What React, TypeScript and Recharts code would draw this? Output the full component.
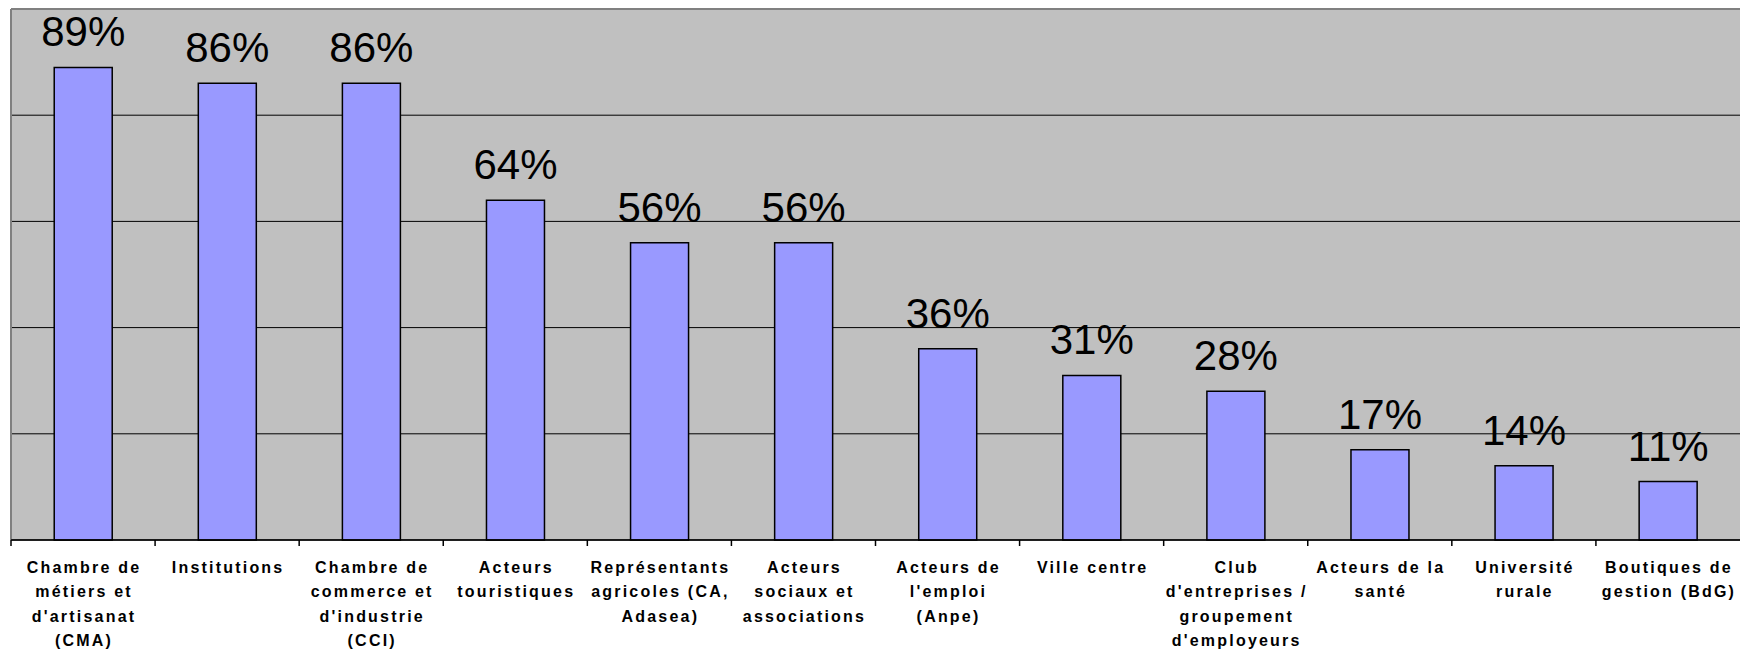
import { BarChart, Bar, XAxis, YAxis, CartesianGrid, LabelList, ReferenceLine } from 'recharts'

const categories = [
  'Chambre de métiers et d\'artisanat (CMA)',
  'Institutions',
  'Chambre de commerce et d\'industrie (CCI)',
  'Acteurs touristiques',
  'Représentants agricoles (CA, Adasea)',
  'Acteurs sociaux et associations',
  'Acteurs de l\'emploi (Anpe)',
  'Ville centre',
  'Club d\'entreprises / groupement d\'employeurs',
  'Acteurs de la santé',
  'Université rurale',
  'Boutiques de gestion (BdG)',
]

// how each category label breaks over lines under the axis
const tickLines = [
  ['Chambre de', 'métiers et', 'd\'artisanat', '(CMA)'],
  ['Institutions'],
  ['Chambre de', 'commerce et', 'd\'industrie', '(CCI)'],
  ['Acteurs', 'touristiques'],
  ['Représentants', 'agricoles (CA,', 'Adasea)'],
  ['Acteurs', 'sociaux et', 'associations'],
  ['Acteurs de', 'l\'emploi', '(Anpe)'],
  ['Ville centre'],
  ['Club', 'd\'entreprises /', 'groupement', 'd\'employeurs'],
  ['Acteurs de la', 'santé'],
  ['Université', 'rurale'],
  ['Boutiques de', 'gestion (BdG)'],
]

const values = [89, 86, 86, 64, 56, 56, 36, 31, 28, 17, 14, 11]

const yTicks = [0, 20, 40, 60, 80, 100]

const data = categories.map((name, i) => ({ name, value: values[i] }))

const WIDTH = 1740
const HEIGHT = 650
const MARGIN = { top: 9, right: 0, bottom: 0, left: 10 }
const band = (WIDTH - MARGIN.left - 1 - MARGIN.right) / categories.length

const FONT = '"Liberation Sans", Arial, sans-serif'

const EmptyTick = () => <g />

const CategoryTick = (props: any) => {
  const { x, y, index } = props
  const lines = tickLines[index] ?? []
  return (
    <g>
      <line x1={x - band / 2} x2={x - band / 2} y1={y - 8} y2={y - 2} stroke="#000" strokeWidth={1.5} />
      <text
        x={x}
        y={y + 25}
        textAnchor="middle"
        fontFamily={FONT}
        fontWeight="bold"
        fontSize={16}
        letterSpacing={2.2}
        fill="#000"
      >
        {lines.map((l, i) => (
          <tspan key={i} x={x + 1} dy={i === 0 ? 0 : 24.3}>
            {l}
          </tspan>
        ))}
      </text>
    </g>
  )
}

export default function App() {
  return (
    <div style={{ position: 'absolute', left: 0, top: 0, width: WIDTH, height: HEIGHT, background: '#fff' }}>
      <BarChart width={WIDTH} height={HEIGHT} data={data} margin={MARGIN} barCategoryGap="30%">
        <CartesianGrid
          horizontal
          vertical={false}
          stroke="#000"
          strokeWidth={1}
          fill="#C0C0C0"
          fillOpacity={1}
        />
        <YAxis
          domain={[0, 100]}
          ticks={yTicks}
          width={1}
          tick={<EmptyTick />}
          tickLine={false}
          axisLine={{ stroke: '#808080', strokeWidth: 2 }}
        />
        <XAxis
          dataKey="name"
          height={110}
          interval={0}
          tickLine={false}
          axisLine={{ stroke: '#000', strokeWidth: 1.5 }}
          tick={<CategoryTick />}
        />
        <ReferenceLine y={100} stroke="#808080" strokeWidth={2} />
        <Bar dataKey="value" fill="#9999FF" stroke="#000" strokeWidth={1.5} isAnimationActive={false}>
          <LabelList
            dataKey="value"
            position="top"
            offset={21}
            formatter={(v: any) => `${v}%`}
            fill="#000"
            fontSize={42}
            fontFamily={FONT}
          />
        </Bar>
      </BarChart>
    </div>
  )
}
